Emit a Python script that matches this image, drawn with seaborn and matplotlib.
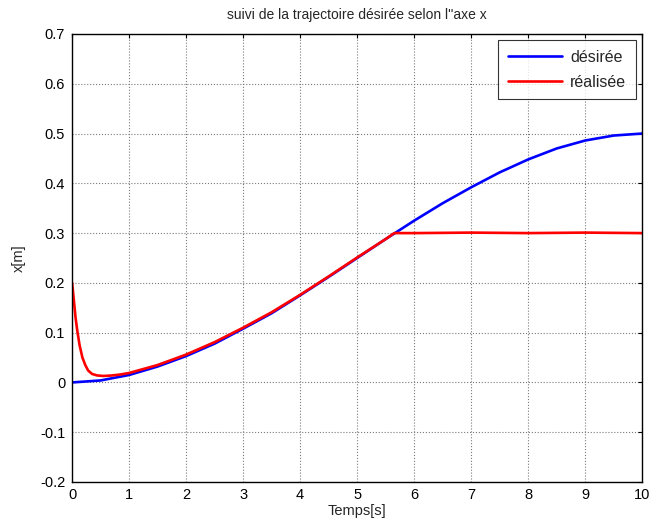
import matplotlib
matplotlib.use("Agg")
import matplotlib.pyplot as plt
import seaborn as sns
import pandas as pd

# Desired trajectory along x (time in s, position in m)
t_des = [0.0, 0.5, 1.0, 1.5, 2.0, 2.5, 3.0, 3.5, 4.0, 4.5, 5.0, 5.5, 6.0,
         6.5, 7.0, 7.5, 8.0, 8.5, 9.0, 9.5, 10.0]
x_des = [0.0, 0.004, 0.015, 0.032, 0.053, 0.078, 0.108, 0.139, 0.175, 0.212,
         0.250, 0.288, 0.325, 0.360, 0.392, 0.422, 0.448, 0.470, 0.486, 0.496, 0.500]

# Achieved trajectory along x
t_real = [0.0, 0.03, 0.06, 0.09, 0.13, 0.18, 0.23, 0.28, 0.35, 0.44, 0.55, 0.7,
          0.85, 1.0, 1.5, 2.0, 2.5, 3.0, 3.5, 4.0, 4.5, 5.0, 5.5, 5.65, 6.0,
          7.0, 8.0, 9.0, 10.0]
x_real = [0.200, 0.165, 0.130, 0.104, 0.075, 0.050, 0.035, 0.024, 0.017, 0.014,
          0.013, 0.014, 0.016, 0.019, 0.035, 0.056, 0.081, 0.110, 0.141, 0.176,
          0.213, 0.251, 0.288, 0.300, 0.300, 0.301, 0.300, 0.301, 0.300]

x_ticks = list(range(0, 11))
y_ticks = [-0.2, -0.1, 0, 0.1, 0.2, 0.3, 0.4, 0.5, 0.6, 0.7]
y_labels = ["-0.2", "-0.1", "0", "0.1", "0.2", "0.3", "0.4", "0.5", "0.6", "0.7"]

df = pd.concat([
    pd.DataFrame({"t": t_des, "x": x_des, "serie": "désirée"}),
    pd.DataFrame({"t": t_real, "x": x_real, "serie": "réalisée"}),
], ignore_index=True)

sns.set_style("white")
plt.rcParams["font.family"] = ["Liberation Sans", "DejaVu Sans"]

fig = plt.figure(figsize=(6.5, 5.31), dpi=100)
ax = fig.add_axes([0.111, 0.0923, 0.877, 0.8437])

sns.lineplot(data=df, x="t", y="x", hue="serie", sort=False,
             palette={"désirée": "#0000ff", "réalisée": "#ff0000"},
             linewidth=1.9, ax=ax, estimator=None)

ax.set_xlim(0, 10)
ax.set_ylim(-0.2, 0.7)
ax.set_xticks(x_ticks)
ax.set_xticklabels([str(v) for v in x_ticks])
ax.set_yticks(y_ticks)
ax.set_yticklabels(y_labels)
ax.tick_params(direction="in", top=True, right=True, length=3, width=0.8,
               labelsize=10.5, colors="black", pad=5)
ax.tick_params(axis="x", pad=4)
ax.grid(True, color="#7a7a7a", linestyle=":", linewidth=0.8)
for s in ax.spines.values():
    s.set_visible(True)
    s.set_color("black")
    s.set_linewidth(1.0)

ax.set_xlabel("Temps[s]", fontsize=10.5, labelpad=2)
ax.set_ylabel("x[m]", fontsize=10.5, labelpad=10)
ax.set_title("suivi de la trajectoire désirée selon l''axe x", fontsize=10, pad=11)

leg = ax.legend(loc="upper right", fontsize=11.5, frameon=True, fancybox=False,
                edgecolor="black", borderaxespad=0.4, handlelength=3.4,
                handletextpad=0.5, borderpad=0.6, labelspacing=0.6)
leg.get_frame().set_linewidth(0.8)
for line in leg.get_lines():
    line.set_linewidth(1.9)

fig.savefig("out.png", dpi=100, facecolor="white")
